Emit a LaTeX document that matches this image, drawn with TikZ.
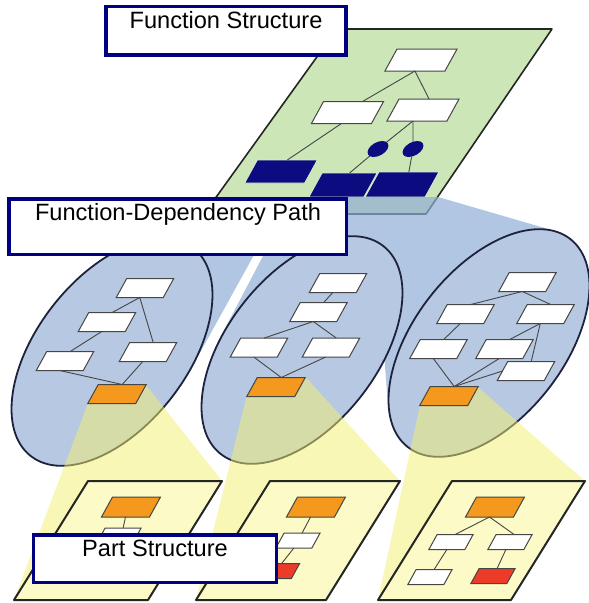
\documentclass[tikz,border=0pt]{standalone}
\usepackage{fontspec}
\setmainfont{Liberation Sans}
\usetikzlibrary{shapes.geometric}

\definecolor{plgreen}{RGB}{204,230,184}
\definecolor{navyfill}{RGB}{12,12,128}
\definecolor{coneblue}{RGB}{145,174,214}
\definecolor{ellfill}{RGB}{182,200,226}
\definecolor{ellline}{RGB}{30,34,60}
\definecolor{wedgeyel}{RGB}{245,240,110}
\definecolor{plyellow}{RGB}{252,250,198}
\definecolor{orangefill}{RGB}{245,152,30}
\definecolor{redfill}{RGB}{236,60,40}
\definecolor{darkline}{RGB}{35,38,35}
\definecolor{boxline}{RGB}{70,70,70}
\definecolor{labelblue}{RGB}{0,0,128}

\begin{document}
\begin{tikzpicture}[x=1pt,y=-1pt,
  plane/.style={fill=plgreen, draw=darkline, line width=1.6pt, line join=round},
  bplane/.style={fill=plyellow, draw=darkline, line width=2pt, line join=round},
  slanted/.style={inner sep=0pt, outer sep=0pt, xslant=0.55, transform shape},
  fbox/.style={slanted, draw=boxline, fill=white, line width=1pt, minimum width=60pt, minimum height=22pt},
  ebox/.style={slanted, draw=boxline, fill=white, line width=1pt, minimum width=47pt, minimum height=19pt},
  obox/.style={slanted, draw=boxline, fill=orangefill, line width=1pt, minimum width=48pt, minimum height=19pt},
  pobox/.style={slanted, draw=boxline, fill=orangefill, line width=1pt, minimum width=48pt, minimum height=20pt},
  pwbox/.style={slanted, draw=boxline, fill=white, line width=1pt, minimum width=36pt, minimum height=15pt},
  prbox/.style={slanted, draw=boxline, fill=redfill, line width=1pt, minimum width=36pt, minimum height=15pt},
  navybox/.style={slanted, draw=plgreen!70!white, fill=navyfill, line width=0.8pt},
  andnode/.style={slanted, ellipse, fill=navyfill, minimum width=19pt, minimum height=16pt},
  link/.style={draw=boxline, line width=0.9pt},
  pathell/.style={ellipse, draw=ellline, fill=ellfill, line width=1.8pt, inner sep=0pt,
    minimum width=264pt, minimum height=150pt, rotate=52},
  cone/.style={fill=coneblue, fill opacity=0.7},
  wedge/.style={fill=wedgeyel, fill opacity=0.5},
  lblbox/.style={draw=labelblue, fill=white, line width=3.3pt, inner sep=0pt},
  lbltext/.style={font=\fontsize{23.6pt}{28pt}\selectfont, inner sep=0pt, anchor=base}]

\useasboundingbox (0,0) rectangle (589,603);
\fill[white] (0,0) rectangle (589,603);

% ---------------- function structure plane ----------------
\draw[plane] (337,29) -- (552,29) -- (426,214) -- (204,214) -- cycle;

\node[fbox] (ft) at (421,60) {};
\node[fbox] (fl) at (347.5,112.5) {};
\node[fbox] (fr) at (423,110) {};
\node[andnode] (fa) at (378,149) {};
\node[andnode] (fb) at (413,149) {};
\node[navybox, minimum width=60pt, minimum height=23pt] (fd1) at (281,171.5) {};
\node[navybox, minimum width=55pt, minimum height=24pt] (fd2) at (343,185) {};
\node[navybox, minimum width=60pt, minimum height=25pt] (fd3) at (402,184.5) {};

\draw[link] (ft.south) -- ([xshift=9pt]fl.north);
\draw[link] (ft.south) -- (fr.north);
\draw[link] (fl.south) -- (fd1.north);
\draw[link] ([xshift=-4pt]fr.south) -- (fa);
\draw[link] ([xshift=-4pt]fr.south) -- (fb);
\draw[link] (fa) -- (fd2.north);
\draw[link] (fb) -- (fd3.north);

% ---------------- dependency cones ----------------
\fill[cone] (218,197) -- (286,197) -- (191,369) -- (112,352) -- (116,252) -- cycle
            (294,197) -- (372,197) -- (398,267) -- (302,350) -- (220,338) -- cycle
            (372,197) -- (438,197) -- (555,231) -- (489,343) -- (388,405) -- cycle;

% ---------------- dependency path ellipses ----------------
\node[pathell] (ell1) at (112,352) {};
\node[pathell] (ell2) at (302,350) {};
\node[pathell] (ell3) at (489,343) {};

% yellow wedges towards the part structures
\fill[wedge] (98,385) -- (146,385) -- (222,481) -- (148,600) -- (14,600) -- (88,403) -- cycle
             (257.5,377) -- (305.5,377) -- (400,481) -- (326,600) -- (196,600) -- (246.5,397) -- cycle
             (430,387) -- (478,387) -- (585,481) -- (511,600) -- (378,600) -- (420,405) -- cycle;

% path 1
\node[ebox] (a1) at (145,288) {};
\node[ebox] (b1) at (107,322) {};
\node[ebox] (c1) at (65,361) {};
\node[ebox] (d1) at (148,352) {};
\node[obox] (o1) at (117,394) {};
\draw[link] (a1.south) -- (b1.north);
\draw[link] (a1.south) -- (d1.north);
\draw[link] (b1.south) -- (c1.north);
\draw[link] (c1.south) -- (o1.north);
\draw[link] (d1.south) -- (o1.north);

% path 2
\node[ebox] (a2) at (338,283) {};
\node[ebox] (b2) at (318.5,312) {};
\node[ebox] (c2) at (259,347.5) {};
\node[ebox] (d2) at (331,347.5) {};
\node[obox] (o2) at (276,387) {};
\draw[link] (a2.south) -- (b2.north);
\draw[link] (b2.south) -- (c2.north);
\draw[link] (b2.south) -- (d2.north);
\draw[link] (c2.south) -- (o2.north);
\draw[link] (d2.south) -- (o2.north);

% path 3
\node[ebox] (a3) at (527.5,282) {};
\node[ebox] (b3) at (465.5,314) {};
\node[ebox] (c3) at (545.5,314) {};
\node[ebox] (d3) at (438.5,349) {};
\node[ebox] (e3) at (504.5,349) {};
\node[ebox] (f3) at (526,371) {};
\node[obox] (o3) at (449,396) {};
\draw[link] (a3.south) -- (b3.north);
\draw[link] (a3.south) -- (c3.north);
\draw[link] (b3.south) -- (d3.north);
\draw[link] (c3.south) -- (e3.north);
\draw[link] (c3.south) -- (f3.north);
\draw[link] (d3.south) -- (o3.north);
\draw[link] (e3.south) -- (o3.north);
\draw[link] (f3.west) -- (o3.north);

% ---------------- part structure planes ----------------
\draw[bplane] (88,481) -- (222,481) -- (148,600) -- (14,600) -- cycle;
\draw[bplane] (270,481) -- (400,481) -- (326,600) -- (196,600) -- cycle;
\draw[bplane] (452,481) -- (585,481) -- (511,600) -- (378,600) -- cycle;

\node[pobox] (po1) at (131,507) {};
\node[pwbox] (pw1) at (119,535.5) {};
\node[prbox] (pr1) at (106,566) {};
\draw[link] (po1.south) -- (pw1.north);
\draw[link] (pw1.south) -- (pr1.north);

\node[pobox] (po2) at (316,507) {};
\node[pwbox] (pw2) at (298,540.5) {};
\node[prbox] (pr2) at (277.5,571) {};
\draw[link] (po2.south) -- (pw2.north);
\draw[link] (pw2.south) -- (pr2.north);

\node[pobox] (po3) at (495,507) {};
\node[pwbox] (pwl3) at (451,542) {};
\node[pwbox] (pwr3) at (510,542) {};
\node[pwbox] (pll3) at (430,577) {};
\node[prbox] (pr3) at (493,576) {};
\draw[link] (po3.south) -- (pwl3.north);
\draw[link] (po3.south) -- (pwr3.north);
\draw[link] (pwl3.south) -- (pll3.north);
\draw[link] (pwr3.south) -- (pr3.north);

% ---------------- captions ----------------
\node[lblbox, minimum width=240pt, minimum height=48.3pt] (fsbox) at (226,30.85) {};
\node[lbltext] (fstext) at (226,28.5) {Function Structure};

\node[lblbox, minimum width=337.5pt, minimum height=55.5pt] (fdbox) at (177.75,226.75) {};
\node[lbltext] (fdtext) at (178,220.7) {Function-Dependency Path};

\node[lblbox, minimum width=243.4pt, minimum height=47.3pt] (psbox) at (155,558.65) {};
\node[lbltext] (pstext) at (155,556.7) {Part Structure};
\end{tikzpicture}
\end{document}
